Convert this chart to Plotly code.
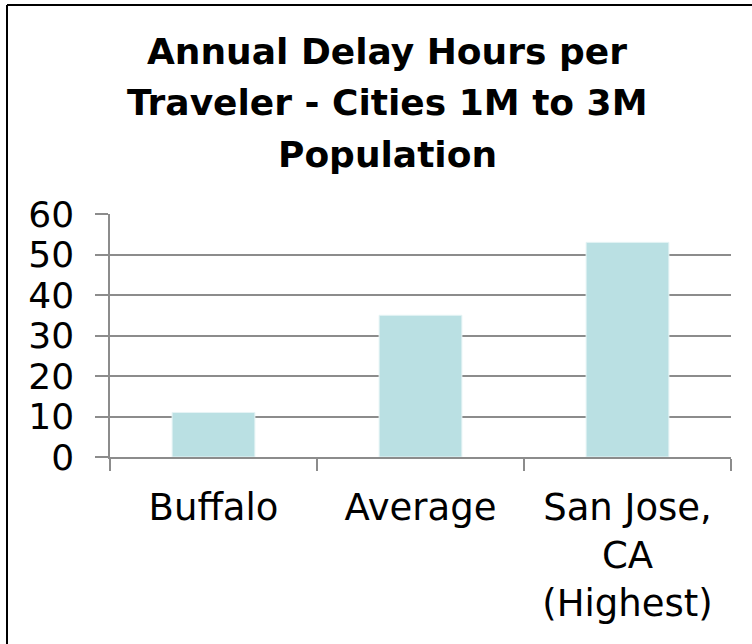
import plotly.graph_objects as go

categories = ["Buffalo", "Average", "San Jose,<br>CA<br>(Highest)"]
delay_hours = [11, 35, 53]
y_tick_values = [0, 10, 20, 30, 40, 50, 60]
title_lines = ["Annual Delay Hours per", "Traveler - Cities 1M to 3M", "Population"]

W, H = 752, 644
L, R, T, B = 110, 21, 214, 187

GRID = "#8c8c8c"
FONT = "DejaVu Sans, Liberation Sans, Arial, sans-serif"

fig = go.Figure(
    go.Bar(
        x=categories,
        y=delay_hours,
        marker=dict(color="#bae0e3", line=dict(color="#e6f4f5", width=1)),
    )
)

pw = W - L - R
ph = H - T - B


def px_to_paper_x(p):
    return (p - L) / pw


def px_to_paper_y(p):
    return (H - B - p) / ph


title_centers = [52, 103, 154]
annotations = [
    dict(
        text="<b>" + line + "</b>",
        xref="paper",
        yref="paper",
        x=px_to_paper_x(387),
        y=px_to_paper_y(cy),
        xanchor="center",
        yanchor="middle",
        showarrow=False,
        font=dict(family=FONT, size=36, color="black"),
    )
    for line, cy in zip(title_lines, title_centers)
]

border = dict(color="black", width=2)
shapes = [
    dict(type="line", xref="paper", yref="paper",
         x0=px_to_paper_x(7), x1=px_to_paper_x(W),
         y0=px_to_paper_y(5), y1=px_to_paper_y(5), line=border, layer="above"),
    dict(type="line", xref="paper", yref="paper",
         x0=px_to_paper_x(7), x1=px_to_paper_x(7),
         y0=px_to_paper_y(5), y1=px_to_paper_y(H), line=border, layer="above"),
]

fig.update_layout(
    width=W,
    height=H,
    margin=dict(l=L, r=R, t=T, b=B),
    paper_bgcolor="white",
    plot_bgcolor="white",
    bargap=0.6,
    showlegend=False,
    font=dict(family=FONT, color="black"),
    annotations=annotations,
    shapes=shapes,
)

fig.update_yaxes(
    range=[0, 60],
    tickvals=y_tick_values,
    showgrid=True,
    gridcolor=GRID,
    gridwidth=1.5,
    zeroline=False,
    showline=True,
    linecolor=GRID,
    linewidth=1.5,
    ticks="outside",
    ticklen=13,
    tickcolor=GRID,
    tickwidth=1.5,
    tickfont=dict(family=FONT, size=36, color="black"),
    ticklabelstandoff=14,
)

fig.update_xaxes(
    showline=True,
    linecolor=GRID,
    linewidth=1.5,
    ticks="outside",
    tickson="boundaries",
    ticklen=12,
    tickcolor=GRID,
    tickwidth=1.5,
    showgrid=False,
    tickfont=dict(family=FONT, size=37, color="black"),
    ticklabelstandoff=17,
)

fig.write_html(
    "out.html",
    config={"displayModeBar": False},
    post_script="document.body.style.margin='0';document.body.style.overflow='hidden';",
)
